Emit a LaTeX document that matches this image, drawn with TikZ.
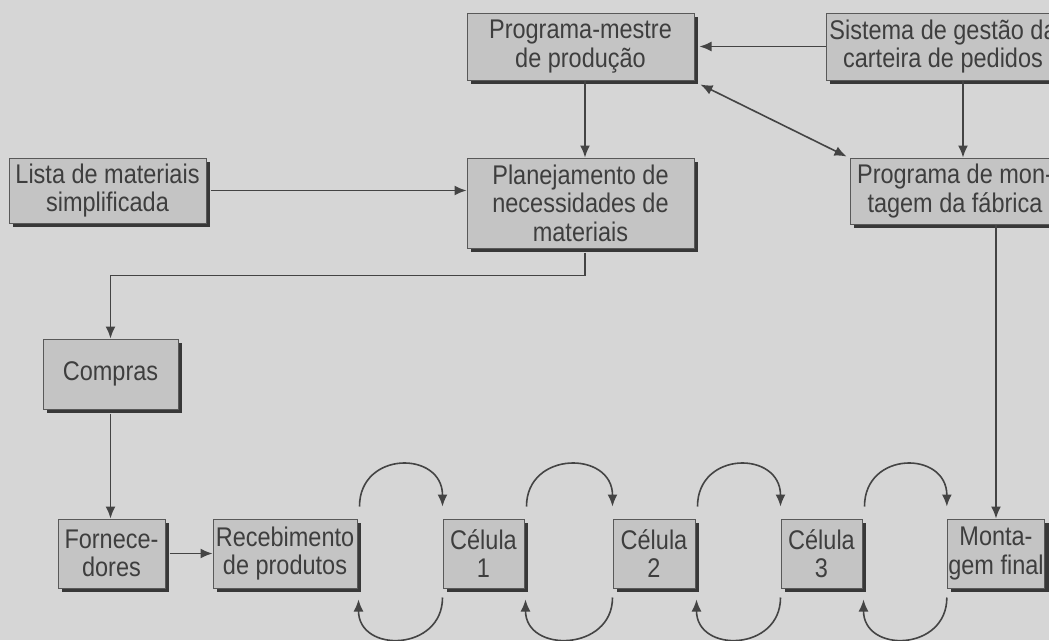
\documentclass[tikz,border=0pt]{standalone}
\usepackage{fontspec}
\setmainfont[FakeStretch=0.87]{Liberation Sans}
\usetikzlibrary{shadows,arrows.meta}
\definecolor{bggray}{HTML}{D6D6D6}
\definecolor{boxfill}{HTML}{C4C4C4}
\definecolor{txtgray}{HTML}{3E3E3E}
\definecolor{linegray}{HTML}{444444}
\tikzset{
  blk/.style={draw=black!65, line width=1pt, fill=boxfill, align=center,
    text=txtgray, inner sep=1pt, font=\fontsize{27}{28.5}\selectfont,
    drop shadow={shadow xshift=4pt, shadow yshift=-4pt, fill=black!78, opacity=1}},
  arr/.style={draw=linegray, line width=1.6pt, -{Latex[length=12pt,width=10pt]}},
  arrboth/.style={draw=linegray, line width=1.6pt, {Latex[length=12pt,width=10pt]}-{Latex[length=12pt,width=10pt]}},
}
\begin{document}
\begin{tikzpicture}[x=1pt,y=-1pt]
\fill[bggray] (0,0) rectangle (1049,640);
\useasboundingbox (0,0) rectangle (1049,640);
\clip (0,0) rectangle (1049,640);
% top row
\node[blk, minimum width=227pt, minimum height=67pt] (PM) at (580.5,46.5) {Programa-mestre\\de produção};
\node[blk, minimum width=234pt, minimum height=67pt] (SG) at (943,46.5) {Sistema de gestão da\\carteira de pedidos};
% second row
\node[blk, minimum width=197pt, minimum height=65pt] (LM) at (107.5,190.5) {Lista de materiais\\simplificada};
\node[blk, minimum width=227pt, minimum height=90pt] (PL) at (580.5,203) {Planejamento de\\necessidades de\\materiais};
\node[blk, minimum width=210pt, minimum height=66pt] (PMF) at (955,191) {Programa de mon-\\tagem da fábrica};
% compras
\node[blk, minimum width=135pt, minimum height=70pt] (CO) at (110.5,374) {Compras};
% bottom row
\node[blk, minimum width=107pt, minimum height=69pt] (FO) at (111.5,553.5) {Fornece-\\dores};
\node[blk, minimum width=144pt, minimum height=69pt] (RE) at (285,553.5) {Recebimento\\de produtos};
\node[blk, minimum width=81pt, minimum height=69pt] (C1) at (483.5,553.5) {Célula\\1};
\node[blk, minimum width=82pt, minimum height=69pt] (C2) at (654,553.5) {Célula\\2};
\node[blk, minimum width=81pt, minimum height=69pt] (C3) at (821.5,553.5) {Célula\\3};
\node[blk, minimum width=96pt, minimum height=69pt] (MF) at (996,553.5) {Monta-\\gem final};
% connectors
\draw[arr] (SG.west) -- ([xshift=5pt]PM.east);
\draw[arr] ([xshift=4.5pt]PM.south) -- ([xshift=4.5pt]PL.north);
\draw[arr] ([xshift=20pt]SG.south) -- ([xshift=20pt]SG.south |- PMF.north);
\draw[arrboth] ([shift={(6pt,-4pt)}]PM.south east) -- ([shift={(-3pt,1pt)}]PMF.north west);
\draw[arr] ([xshift=4pt]LM.east) -- (LM.east -| PL.west);
\draw[arr] ([xshift=4.5pt,yshift=-4pt]PL.south) -- ++(0,-23pt) -| (CO.north);
\draw[arr] ([yshift=-4pt]CO.south) -- (CO.south |- FO.north);
\draw[arr] ([xshift=4pt]FO.east) -- (RE.west);
\draw[arr] (PMF.south -| MF.north) -- (MF.north);
% loops
\foreach \a/\b in {RE/C1, C1/C2, C2/C3, C3/MF}{
  \draw[arr] ([shift={(2pt,12pt)}]\a.north east) .. controls +(0,56pt) and +(0,56pt) .. ([yshift=12pt]\b.north west);
  \draw[arr] ([yshift=-9pt]\b.south west) .. controls +(0,-54pt) and +(0,-54pt) .. ([shift={(1pt,-11pt)}]\a.south east);
}
\end{tikzpicture}
\end{document}
